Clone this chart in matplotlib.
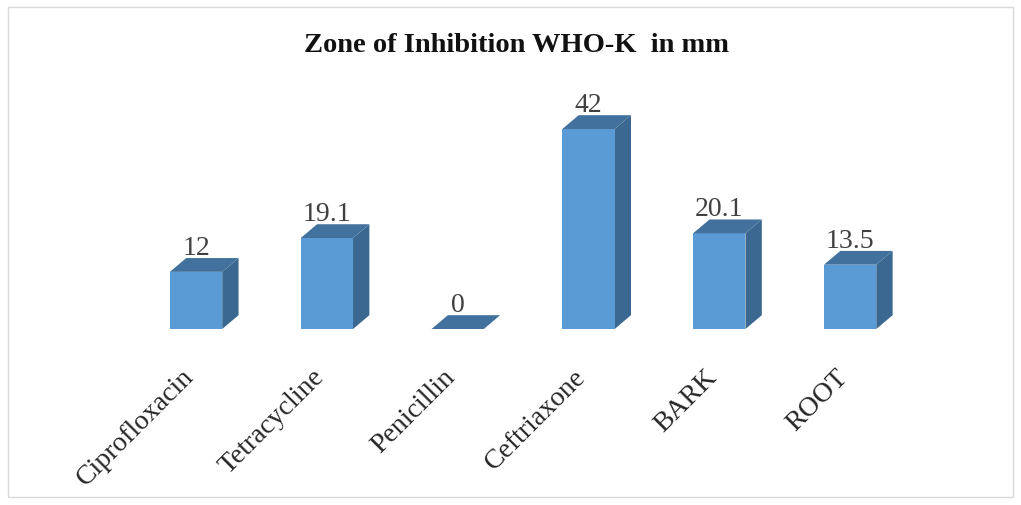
import numpy as np
import matplotlib.pyplot as plt
import matplotlib.transforms as mtrans
from matplotlib.patches import Rectangle

# data
drugs = ['Ciprofloxacin', 'Tetracycline', 'Penicillin', 'Ceftriaxone', 'BARK', 'ROOT']
zone_mm = [12, 19.1, 0, 42, 20.1, 13.5]
value_text = ['12', '19.1', '0', '42', '20.1', '13.5']

plt.rcParams['font.family'] = ['Liberation Serif', 'DejaVu Serif']

front_col = '#5B9BD5'
top_col = '#41719C'
side_col = '#3A6891'

w = 0.4      # bar width (category units)
dx = 0.125   # depth offset in x
dy = 2.9     # depth offset in y (mm units)

fig = plt.figure(figsize=(10.21, 5.06), dpi=100)
fig.patches.append(Rectangle((8 / 1021, 8 / 506), 1005 / 1021, 490 / 506,
                             transform=fig.transFigure, fill=False,
                             edgecolor='#d9d9d9', linewidth=1.0))

ax = fig.add_axes([60 / 1021, 176 / 506, 900 / 1021, 230 / 506])
x = np.arange(len(drugs))

ax.bar(x, zone_mm, width=w, color=front_col, edgecolor='none', zorder=2)
for xi, v, t in zip(x, zone_mm, value_text):
    l, r = xi - w / 2, xi + w / 2
    # right side
    ax.fill([r, r + dx, r + dx, r], [0, dy, v + dy, v], color=side_col, lw=0, zorder=1)
    # top face
    ax.fill([l, r, r + dx, l + dx], [v, v, v + dy, v + dy], color=top_col, lw=0, zorder=3)
    ax.text(xi, v + dy - 0.4, t, ha='center', va='bottom',
            fontsize=20, color='#404040')

ax.set_xlim(-1.04, 5.84)
ax.set_ylim(0, 48.3)
ax.set_xticks(x)
ax.set_xticklabels(drugs, rotation=45, ha='right', va='top',
                   rotation_mode='anchor', fontsize=20, color='#262626')
ax.tick_params(axis='x', length=0, pad=25)
shift = mtrans.ScaledTranslation(-15 / 100, 0, fig.dpi_scale_trans)
for lab in ax.get_xticklabels():
    lab.set_transform(lab.get_transform() + shift)
ax.set_yticks([])
for s in ax.spines.values():
    s.set_visible(False)

fig.text(517 / 1021, 1 - 46 / 506, 'Zone of Inhibition WHO-K  in mm',
         ha='center', va='center', fontsize=20.5, fontweight='bold', color='#111111')

fig.savefig('out.png', dpi=100)
